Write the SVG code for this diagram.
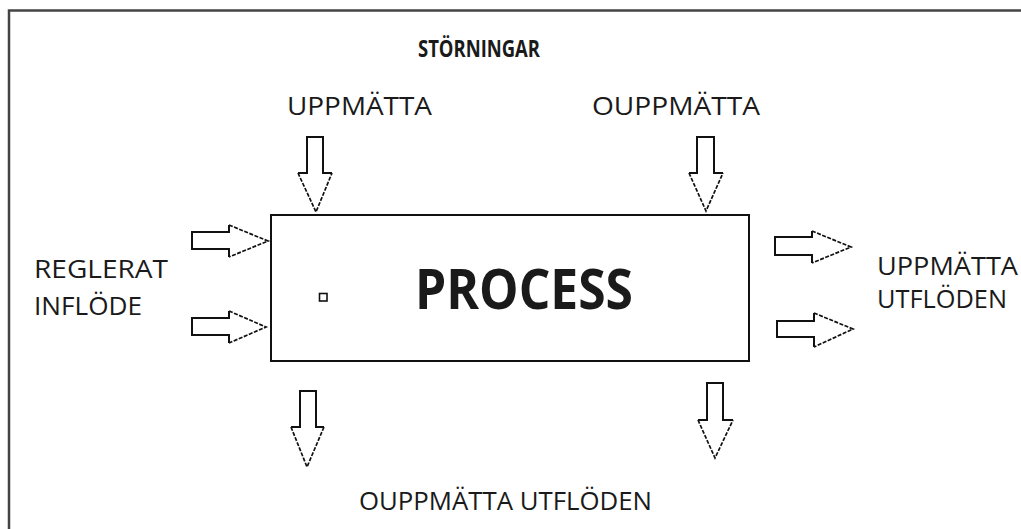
<svg xmlns="http://www.w3.org/2000/svg" width="1021" height="529" viewBox="0 0 1021 529">
<style>
.t{font-family:"Open Sans","Liberation Sans",Arial,sans-serif;fill:#1a1a1a;font-size:25px}
.b{font-weight:bold}
.s20{font-size:24px}
.s56{font-size:56px}
.sh{fill:none;stroke:#111;stroke-width:2;stroke-linejoin:miter}
.hd{fill:none;stroke:#111;stroke-width:1.7;stroke-dasharray:4 1.5}
</style>
<rect x="0" y="0" width="1021" height="529" fill="#fff"/>
<path d="M9,529 V10.5 H1021" fill="none" stroke="#444" stroke-width="2.5"/>
<g id="title"><text class="t b s20" x="418" y="57" textLength="122" lengthAdjust="spacingAndGlyphs">STÖRNINGAR</text></g>
<g id="process">
<rect x="271" y="215" width="478" height="146" fill="#fff" stroke="#111" stroke-width="2"/>
<rect x="319.5" y="293.5" width="7.5" height="7.5" fill="none" stroke="#111" stroke-width="1.6"/>
<text class="t b s56" x="415" y="309" textLength="218" lengthAdjust="spacingAndGlyphs">PROCESS</text>
</g>
<g id="label-uppmatta"><text class="t" x="287" y="115" textLength="145" lengthAdjust="spacingAndGlyphs">UPPMÄTTA</text></g>
<g id="label-ouppmatta"><text class="t" x="592" y="115" textLength="168" lengthAdjust="spacingAndGlyphs">OUPPMÄTTA</text></g>
<g id="label-reglerat"><text class="t" x="34" y="278" textLength="134" lengthAdjust="spacingAndGlyphs">REGLERAT</text><text class="t" x="34" y="315" textLength="108" lengthAdjust="spacingAndGlyphs">INFLÖDE</text></g>
<g id="label-uppmatta-utfloden"><text class="t" x="877" y="275" textLength="141" lengthAdjust="spacingAndGlyphs">UPPMÄTTA</text><text class="t" x="877" y="308" textLength="130" lengthAdjust="spacingAndGlyphs">UTFLÖDEN</text></g>
<g id="label-ouppmatta-utfloden"><text class="t" x="359" y="510" textLength="293" lengthAdjust="spacingAndGlyphs">OUPPMÄTTA UTFLÖDEN</text></g>
<g id="connectors">
<polyline class="sh" points="229,225 229,232 192,232 192,249 229,249 229,257"/>
<polyline class="hd" points="229,225 268,241 229,257"/>
<polyline class="sh" points="229,311 229,318 192,318 192,335 229,335 229,343"/>
<polyline class="hd" points="229,311 266,327 229,343"/>
<polyline class="sh" points="298,173 307,173 307,137 323,137 323,173 332,173"/>
<polyline class="hd" points="298,173 316,212 332,173"/>
<polyline class="sh" points="689,173 697,173 697,137 714,137 714,173 723,173"/>
<polyline class="hd" points="689,173 706,211 723,173"/>
<polyline class="sh" points="812,231 812,237 775,237 775,255 812,255 812,263"/>
<polyline class="hd" points="812,231 851,247 812,263"/>
<polyline class="sh" points="814,313 814,321 777,321 777,337 814,337 814,347"/>
<polyline class="hd" points="814,313 853,329 814,347"/>
<polyline class="sh" points="291,427 300,427 300,391 316,391 316,427 324,427"/>
<polyline class="hd" points="291,427 307,467 324,427"/>
<polyline class="sh" points="698,420 707,420 707,383 723,383 723,420 733,420"/>
<polyline class="hd" points="698,420 715,458 733,420"/>
</g>
</svg>
